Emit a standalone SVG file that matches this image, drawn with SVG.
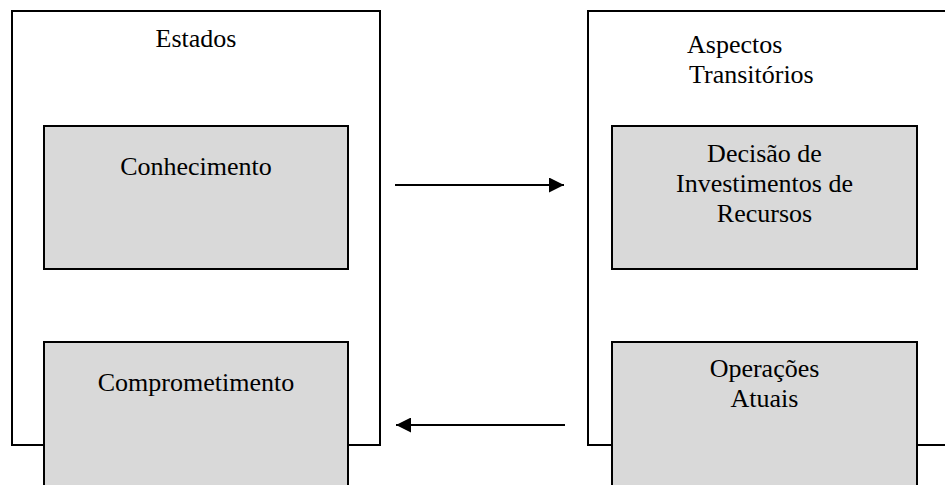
<svg xmlns="http://www.w3.org/2000/svg" width="945" height="485" viewBox="0 0 945 485">
<defs>
<style>
.outer{fill:#ffffff;stroke:#000;stroke-width:2}
.box{fill:#d9d9d9;stroke:#000;stroke-width:2}
.t{font-family:"Liberation Serif","Times New Roman",serif;font-size:26px;fill:#000}
.c{text-anchor:middle}
.conn{stroke:#000;stroke-width:1.8;fill:none;marker-end:url(#ah)}
</style>
<marker id="ah" viewBox="0 0 10 10" refX="10" refY="5" markerUnits="userSpaceOnUse" markerWidth="15" markerHeight="15" preserveAspectRatio="none" orient="auto">
<path d="M0,0 L10,5 L0,10 Z" fill="#000"/>
</marker>
</defs>
<rect width="945" height="485" fill="#ffffff"/>
<g id="estados">
<rect class="outer" x="12" y="11" width="368" height="434"/>
<text class="t c" x="196" y="47">Estados</text>
</g>
<g id="aspectos">
<path class="outer" d="M946,11 H588 V445 H946"/>
<text class="t" x="687" y="53">Aspectos</text>
<text class="t" x="689" y="83">Transitórios</text>
</g>
<g id="conhecimento">
<rect class="box" x="44" y="126" width="304" height="143"/>
<text class="t c" x="196" y="175">Conhecimento</text>
</g>
<g id="comprometimento">
<rect class="box" x="44" y="342" width="304" height="160"/>
<text class="t c" x="196" y="391">Comprometimento</text>
</g>
<g id="decisao">
<rect class="box" x="612" y="126" width="305" height="143"/>
<text class="t c" x="764.5" y="162">Decisão de</text>
<text class="t c" x="764.5" y="192">Investimentos de</text>
<text class="t c" x="764.5" y="222">Recursos</text>
</g>
<g id="operacoes">
<rect class="box" x="612" y="342" width="305" height="160"/>
<text class="t c" x="764.5" y="377">Operações</text>
<text class="t c" x="764.5" y="407">Atuais</text>
</g>
<g id="connectors">
<line class="conn" x1="395" y1="185" x2="564" y2="185"/>
<line class="conn" x1="565" y1="425" x2="396" y2="425"/>
</g>
</svg>
